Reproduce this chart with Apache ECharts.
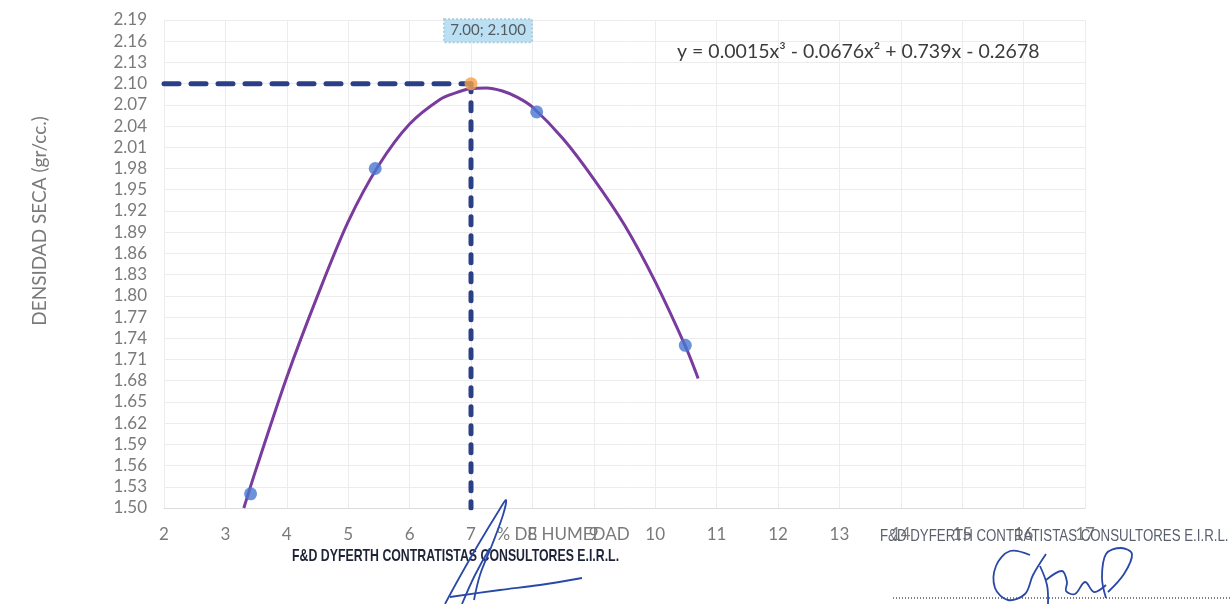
<!DOCTYPE html>
<html>
<head>
<meta charset="utf-8">
<script src="https://cdn.jsdelivr.net/npm/echarts@6.0.0/dist/echarts.min.js"></script>
<style>
  html, body { margin: 0; padding: 0; background: #ffffff; }
  #chart { width: 1232px; height: 604px; }
</style>
</head>
<body>
<div id="chart"></div>
<script>
// Proctor test: dry density vs. moisture content
const humedad = [3.41, 5.44, 8.07, 10.49];
const densidad = [1.52, 1.98, 2.06, 1.73];

// Optimum moisture / maximum dry density
const optimoHumedad = 7.00;
const maxDensidad = 2.100;

// Polynomial trend line, sampled along the drawn curve
const curvaX = [3.3, 3.5, 4.0, 4.5, 5.0, 5.5, 6.0, 6.5, 6.75, 7.0, 7.25, 7.5, 7.75, 8.0, 8.5, 9.0, 9.5, 10.0, 10.5, 10.7];
const curvaY = [1.50, 1.555, 1.685, 1.80, 1.905, 1.985, 2.043, 2.078, 2.087, 2.093, 2.094, 2.090, 2.081, 2.067, 2.022, 1.965, 1.90, 1.82, 1.727, 1.683];

const ecuacion = 'y = 0.0015x\u00B3 - 0.0676x\u00B2 + 0.739x - 0.2678';
const tituloY = 'DENSIDAD SECA (gr/cc.)';
const tituloX = '% DE HUMEDAD';
const sello = 'F&D DYFERTH CONTRATISTAS CONSULTORES E.I.R.L.';

const xMin = 2, xMax = 17, xStep = 1;
const yMin = 1.50, yMax = 2.19, yStep = 0.03;

const FONT = 'Lato, "Open Sans", sans-serif';
const INK = '#2a48a6';
const GUIDE = '#2b3f86';
const chart = echarts.init(document.getElementById('chart'));

const pts = humedad.map((x, i) => [x, densidad[i]]);
const curve = curvaX.map((x, i) => [x, curvaY[i]]);
const guideH = [[xMin, maxDensidad], [optimoHumedad, maxDensidad]];
const guideV = [[optimoHumedad, maxDensidad], [optimoHumedad, yMin]];

// handwritten strokes of the two signatures
function stroke(points) {
  return {
    type: 'polyline', z: 12, silent: true,
    shape: { points: points, smooth: 0.35 },
    style: { fill: null, stroke: INK, lineWidth: 1.8 }
  };
}

chart.setOption({
  backgroundColor: '#ffffff',
  animation: false,
  grid: { left: 164, right: 147, top: 20, bottom: 96, containLabel: false },
  xAxis: {
    type: 'value', min: xMin, max: xMax, interval: xStep,
    axisLine: { show: true, lineStyle: { color: '#dcdcdc' } },
    axisTick: { show: false },
    axisLabel: { color: '#7a7a7a', fontSize: 17, fontFamily: FONT, margin: 18 },
    splitLine: { show: true, lineStyle: { color: '#ececec', width: 1 } }
  },
  yAxis: {
    type: 'value', min: yMin, max: yMax, interval: yStep,
    axisLine: { show: false },
    axisTick: { show: false },
    axisLabel: {
      color: '#7a7a7a', fontSize: 17, fontFamily: FONT, margin: 17,
      formatter: v => v.toFixed(2)
    },
    splitLine: { show: true, lineStyle: { color: '#ececec', width: 1 } }
  },
  series: [
    {
      name: 'guiaH', type: 'line', data: guideH, z: 2,
      showSymbol: false, symbol: 'none',
      lineStyle: { color: GUIDE, width: 5, type: [15, 12], cap: 'round' }
    },
    {
      name: 'guiaV', type: 'line', data: guideV, z: 2,
      showSymbol: false, symbol: 'none',
      lineStyle: { color: GUIDE, width: 5, type: [8, 11], cap: 'round' }
    },
    {
      name: 'tendencia', type: 'line', data: curve, smooth: 0.3, z: 3,
      showSymbol: false, symbol: 'none',
      lineStyle: { color: '#7a3b9e', width: 3 }
    },
    {
      name: 'ensayos', type: 'scatter', data: pts, z: 4,
      symbolSize: 13,
      itemStyle: { color: '#4a77cf' }
    },
    {
      name: 'optimo', type: 'scatter', data: [[optimoHumedad, maxDensidad]], z: 5,
      symbolSize: 13,
      itemStyle: { color: '#f4a048' },
      label: {
        show: true, position: 'top', offset: [17, -30],
        formatter: p => p.value[0].toFixed(2) + '; ' + p.value[1].toFixed(3),
        color: '#3a3a3a', fontSize: 15, fontFamily: FONT,
        backgroundColor: '#aad8f0', borderColor: '#8fb7cc', borderWidth: 1,
        borderType: 'dotted', padding: [4, 6, 4, 6]
      }
    }
  ],
  graphic: [
    {
      type: 'text', x: 677, y: 52, z: 10,
      style: { text: ecuacion, font: '19.5px ' + FONT, fill: '#3c3c3c', verticalAlign: 'middle' }
    },
    {
      type: 'text', x: 40, y: 221, rotation: Math.PI / 2, z: 10,
      style: { text: tituloY, font: '19px ' + FONT, fill: '#7a7a7a', align: 'center', verticalAlign: 'middle' }
    },
    {
      type: 'text', x: 563, y: 535, z: 10,
      style: { text: tituloX, font: '17px ' + FONT, fill: '#7a7a7a', align: 'center', verticalAlign: 'middle' }
    },
    {
      type: 'text', x: 292, y: 556, scaleX: 0.725, z: 11,
      style: { text: sello, font: 'bold 17px "Liberation Sans", sans-serif', fill: '#1e2438', verticalAlign: 'middle' }
    },
    {
      type: 'text', x: 880, y: 537, scaleX: 0.83, z: 11,
      style: { text: sello, font: '16px "Liberation Sans", sans-serif', fill: '#5a5f6e', verticalAlign: 'middle' }
    },
    stroke([[445, 604], [458, 580], [478, 545], [498, 512], [506, 500], [503, 515], [492, 545], [480, 575], [474, 600]]),
    stroke([[462, 604], [475, 575], [490, 548]]),
    stroke([[450, 597], [500, 590], [540, 585], [582, 578]]),
    stroke([[1030, 555], [1010, 551], [996, 566], [995, 588], [1008, 600], [1025, 594], [1033, 575], [1046, 554]]),
    stroke([[1040, 566], [1047, 585], [1048, 604]]),
    stroke([[1046, 580], [1062, 571], [1067, 582], [1066, 591], [1075, 594], [1085, 582], [1094, 592], [1106, 585]]),
    stroke([[1108, 592], [1124, 574], [1132, 554], [1121, 548], [1106, 554], [1102, 578], [1106, 598]]),
    {
      type: 'line', z: 10,
      shape: { x1: 893, y1: 598, x2: 1232, y2: 598 },
      style: { stroke: '#555555', lineWidth: 1.5, lineDash: [1, 2] }
    }
  ]
});
</script>
</body>
</html>
